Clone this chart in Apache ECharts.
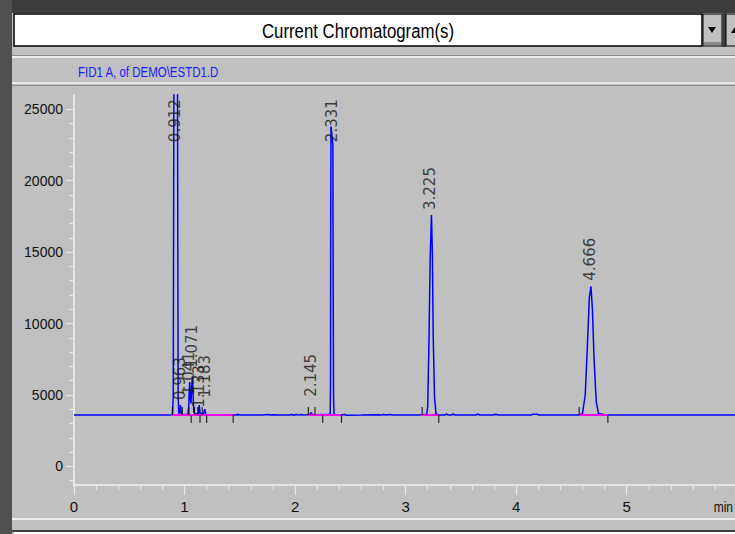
<!DOCTYPE html>
<html><head><meta charset="utf-8">
<script src="https://cdn.jsdelivr.net/npm/echarts@6/dist/echarts.min.js"></script>
<style>html,body{margin:0;padding:0;background:#c0c0c0;overflow:hidden}#c{width:735px;height:534px}</style>
</head><body><div id="c"></div>
<script>
// ---- text ----
const titleText = 'Current Chromatogram(s)';
const signalName = 'FID1 A, of DEMO\\ESTD1.D';
const xUnitText = 'min';

// ---- axes ----
const xTickValues = [0, 1, 2, 3, 4, 5];
const xTickLabels = ['0', '1', '2', '3', '4', '5'];
const yTickValues = [0, 5000, 10000, 15000, 20000, 25000];
const yMinorValues = [-1000, 1000, 2000, 3000, 4000, 6000, 7000, 8000, 9000, 11000, 12000, 13000, 14000,
  16000, 17000, 18000, 19000, 21000, 22000, 23000, 24000];

// ---- trace (retention time, min / signal) ----
const times = [0.000, 0.860, 0.885, 0.892, 0.898, 0.920, 0.942, 0.948, 0.955, 0.963, 0.971, 0.985,
  1.030, 1.038, 1.043, 1.047, 1.052, 1.058, 1.064, 1.071, 1.077, 1.084, 1.100, 1.125, 1.133, 1.141,
  1.170, 1.183, 1.194, 1.250, 1.470, 1.478, 1.484, 1.490, 1.498, 1.700, 1.760, 1.775, 1.790, 1.850,
  1.950, 1.970, 1.990, 2.010, 2.030, 2.050, 2.070, 2.100, 2.130, 2.145, 2.160, 2.200, 2.240, 2.300,
  2.318, 2.321, 2.322, 2.325, 2.342, 2.345, 2.348, 2.352, 2.365, 2.420, 2.450, 2.460, 2.600,
  2.760, 2.780, 2.800, 2.820, 2.860, 2.880, 3.100, 3.150, 3.190, 3.200, 3.212, 3.222, 3.234, 3.242,
  3.250, 3.262, 3.275, 3.300, 3.360, 3.365, 3.375, 3.380, 3.420, 3.425, 3.435, 3.440, 3.640, 3.645,
  3.660, 3.665, 3.800, 3.805, 3.815, 3.820, 3.830, 4.140, 4.150, 4.190, 4.200, 4.570, 4.600, 4.625,
  4.645, 4.662, 4.677, 4.690, 4.705, 4.725, 4.745, 4.800, 4.830, 5.980];
const signal = [3600, 3600, 3620, 3700, 5000, 90000, 5000, 3700, 3750, 4300, 3700, 3620,
  3650, 4200, 5400, 5900, 4800, 4400, 5400, 6300, 5100, 3800, 3650, 3700, 4300, 3700,
  3650, 4000, 3620, 3600, 3600, 3660, 3580, 3650, 3600, 3600, 3630, 3590, 3620, 3600,
  3600, 3640, 3580, 3630, 3590, 3640, 3600, 3610, 3640, 3760, 3600, 3620, 3640, 3620,
  3700, 6000, 15000, 23800, 22500, 12000, 5000, 3700, 3620, 3600, 3640, 3590, 3600,
  3620, 3590, 3640, 3600, 3630, 3600, 3600, 3610, 3650, 4200, 9000, 14500, 17600, 15000,
  9000, 4800, 3700, 3600, 3600, 3670, 3670, 3600, 3600, 3670, 3670, 3600, 3600, 3660,
  3660, 3600, 3600, 3670, 3600, 3670, 3600, 3600, 3660, 3660, 3600, 3600, 3700, 5000,
  8500, 11800, 12600, 11000, 7500, 4500, 3700, 3620, 3600, 3600];

// ---- peak annotations ----
const peakNames = ['0.912', '0.963', '1.041', '1.071', '1.133', '1.183', '2.145', '2.331', '3.225', '4.666'];
const peakLabelLevels = [22700, 4650, 5000, 6900, 4100, 4800, 4870, 22700, 17950, 13000];

// ---- integration baselines ----
const baselineLevel = 3600;
const baselineStarts = [0.88, 2.12, 3.15, 4.57];
const baselineEnds = [1.44, 2.42, 3.30, 4.83];
const startMarks = [0.89, 0.98, 1.04, 1.09, 1.12, 1.16, 2.12, 2.18, 3.15, 4.57];
const endMarks = [1.06, 1.14, 1.20, 1.44, 2.25, 2.42, 3.30, 4.83];

const sans = '"Liberation Sans",Arial,sans-serif';

const traceData = times.map((t, i) => [t, signal[i]]);
const labelData = peakNames.map((n, i) => ({ name: n, value: [parseFloat(n), peakLabelLevels[i]] }));
const segData = baselineStarts.map((s, i) => ({ coords: [[s, baselineLevel], [baselineEnds[i], baselineLevel]] }));

const chart = echarts.init(document.getElementById('c'), null, { renderer: 'svg' });
chart.setOption({
  animation: false,
  backgroundColor: '#c0c0c0',
  grid: { left: 74, top: 95, width: 661, height: 390, containLabel: false, outerBoundsMode: 'none' },
  xAxis: {
    type: 'value', min: 0, max: 5.98, interval: 1,
    axisLine: { show: true, onZero: false, lineStyle: { color: '#f2f2f2', width: 1.5 } },
    axisTick: { show: true, length: 10, lineStyle: { color: '#e6e6e6', width: 1.2 } },
    minorTick: { show: true, splitNumber: 5, length: 5, lineStyle: { color: '#e6e6e6', width: 1.2 } },
    splitLine: { show: false },
    axisLabel: {
      margin: 14, color: '#111', fontFamily: sans, fontSize: 15, hideOverlap: false,
      showMaxLabel: false, showMinLabel: true,
      formatter: v => { const i = xTickValues.indexOf(v); return i >= 0 ? xTickLabels[i] : ''; }
    }
  },
  yAxis: [{
    type: 'value', min: -1300, max: 26000, position: 'left',
    axisLine: { show: true, onZero: false, lineStyle: { color: '#f2f2f2', width: 1.5 } },
    axisTick: { show: true, length: 8, customValues: yTickValues, lineStyle: { color: '#e6e6e6', width: 1.2 } },
    axisLabel: { customValues: yTickValues, margin: 11, color: '#111', fontFamily: sans, fontSize: 14, formatter: v => String(v) },
    splitLine: { show: false }
  }, {
    type: 'value', min: -1300, max: 26000, position: 'left', offset: 0,
    axisLine: { show: false },
    axisTick: { show: true, length: 5, customValues: yMinorValues, lineStyle: { color: '#e6e6e6', width: 1.2 } },
    axisLabel: { show: false },
    splitLine: { show: false }
  }],
  series: [{
    type: 'line', data: traceData, showSymbol: false, symbol: 'none', clip: true, z: 3,
    lineStyle: { color: '#0000ff', width: 1.5 }, silent: true
  }, {
    type: 'lines', coordinateSystem: 'cartesian2d', data: segData, z: 4, silent: true,
    lineStyle: { color: '#ff00ff', width: 2, opacity: 1 }
  }, {
    type: 'scatter', data: startMarks.map(t => [t, baselineLevel]), symbol: 'rect', symbolSize: [1.2, 8],
    symbolOffset: [0, -4], itemStyle: { color: '#000' }, z: 5, silent: true
  }, {
    type: 'scatter', data: endMarks.map(t => [t, baselineLevel]), symbol: 'rect', symbolSize: [1.2, 8],
    symbolOffset: [0, 4], itemStyle: { color: '#000' }, z: 5, silent: true
  }, {
    type: 'scatter', data: labelData, symbolSize: 0, z: 6, silent: true,
    label: {
      show: true, formatter: p => p.name, rotate: 90, position: [0, 0], align: 'left', verticalAlign: 'middle',
      fontFamily: '"DejaVu Sans",sans-serif', fontSize: 15, color: '#1a1a1a'
    }
  }],
  graphic: [
    { type: 'rect', silent: true, shape: { x: 0, y: 0, width: 735, height: 13 }, style: { fill: '#3d3d3d' } },
    { type: 'rect', silent: true, shape: { x: 0, y: 0, width: 12, height: 534 }, style: { fill: '#505050' } },
    { type: 'rect', silent: true, shape: { x: 14, y: 14, width: 688, height: 32 }, style: { fill: '#ffffff', stroke: '#000', lineWidth: 1.5 } },
    { type: 'text', silent: true, x: 358, y: 31, scaleX: 0.8, style: { text: titleText, x: 0, y: 0, align: 'center', verticalAlign: 'middle', font: '21px ' + sans, fill: '#000' } },
    { type: 'rect', silent: true, shape: { x: 703, y: 14, width: 19, height: 32 }, style: { fill: '#c0c0c0', stroke: '#000', lineWidth: 1 } },
    { type: 'rect', silent: true, shape: { x: 704, y: 42, width: 17, height: 3 }, style: { fill: '#8c8c8c' } },
    { type: 'polygon', silent: true, shape: { points: [[708, 27], [716, 27], [712, 33]] }, style: { fill: '#000' } },
    { type: 'rect', silent: true, shape: { x: 722, y: 13, width: 4, height: 34 }, style: { fill: '#3d3d3d' } },
    { type: 'rect', silent: true, shape: { x: 726, y: 14, width: 12, height: 32 }, style: { fill: '#c0c0c0', stroke: '#000', lineWidth: 1 } },
    { type: 'polygon', silent: true, shape: { points: [[731, 33], [739, 33], [735, 27]] }, style: { fill: '#000' } },
    { type: 'rect', silent: true, shape: { x: 12, y: 55, width: 723, height: 1 }, style: { fill: '#8c8c8c' } },
    { type: 'rect', silent: true, shape: { x: 12, y: 56, width: 723, height: 2 }, style: { fill: '#ececec' } },
    { type: 'text', silent: true, x: 78, y: 72, scaleX: 0.82, style: { text: signalName, x: 0, y: 0, align: 'left', verticalAlign: 'middle', font: '14px ' + sans, fill: '#1a1aff' } },
    { type: 'rect', silent: true, shape: { x: 12, y: 82, width: 723, height: 2 }, style: { fill: '#ececec' } },
    { type: 'rect', silent: true, shape: { x: 12, y: 85, width: 723, height: 1 }, style: { fill: '#8c8c8c' } },
    { type: 'text', silent: true, x: 733, y: 507, scaleX: 0.8, style: { text: xUnitText, x: 0, y: 0, align: 'right', verticalAlign: 'middle', font: '15px ' + sans, fill: '#111' } },
    { type: 'rect', silent: true, shape: { x: 12, y: 518, width: 723, height: 2 }, style: { fill: '#ececec' } },
    { type: 'rect', silent: true, shape: { x: 12, y: 530, width: 723, height: 2 }, style: { fill: '#404040' } },
    { type: 'rect', silent: true, shape: { x: 14, y: 532, width: 721, height: 2 }, style: { fill: '#ffffff' } }
  ]
});
</script>
</body></html>
